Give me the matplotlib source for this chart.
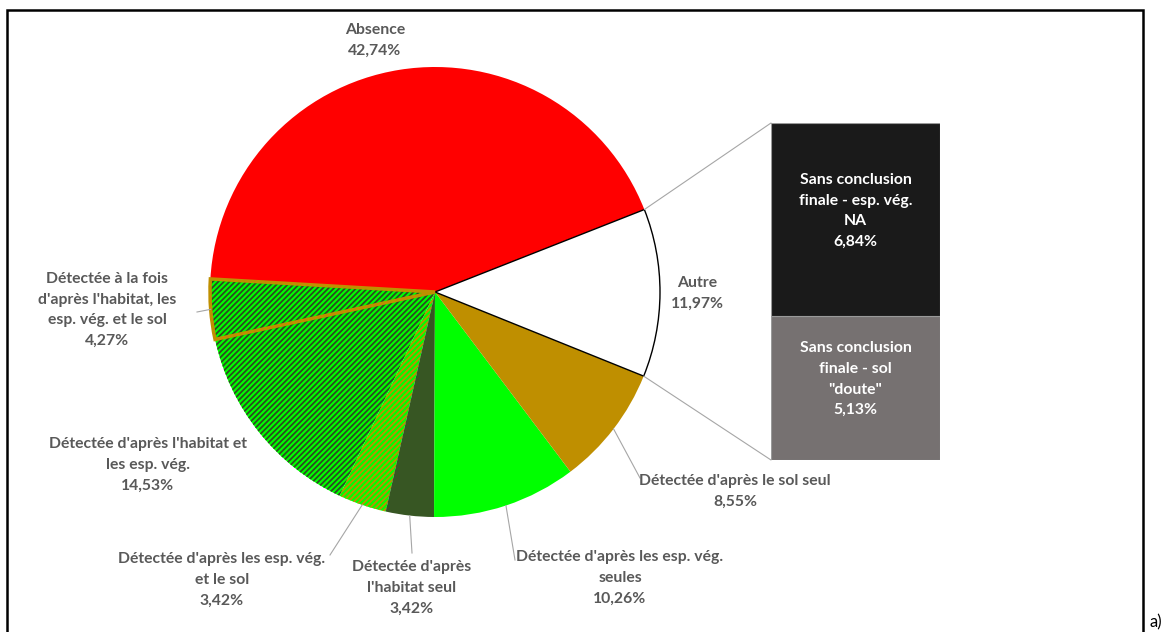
import numpy as np
import matplotlib
matplotlib.use("Agg")
import matplotlib.pyplot as plt
from matplotlib.patches import Wedge, Rectangle, ConnectionPatch

# data (percent of sites)
labels = ["Absence",
          "Détectée à la fois\nd'après l'habitat, les\nesp. vég. et le sol",
          "Détectée d'après l'habitat et\nles esp. vég.",
          "Détectée d'après les esp. vég.\net le sol",
          "Détectée d'après\nl'habitat seul",
          "Détectée d'après les esp. vég.\nseules",
          "Détectée d'après le sol seul",
          "Autre"]
values = [42.74, 4.27, 14.53, 3.42, 3.42, 10.26, 8.55, 11.97]
colors = ["#FF0000", "#00FF00", "#00FF00", "#00FF00", "#375623", "#00FF00", "#BF8F00", "#FFFFFF"]
hatch_cols = [None, "#2E4A22", "#2E4A22", "#BF8F00", None, None, None, None]

sub_labels = ["Sans conclusion\nfinale - sol\n\"doute\"", "Sans conclusion\nfinale - esp. vég.\nNA"]
sub_values = [5.13, 6.84]
sub_colors = ["#767171", "#1A1A1A"]

W, H = 1170, 632
TXT = "#595959"
FS = 11.3
LS = 1.6
plt.rcParams['font.family'] = ['Lato', 'DejaVu Sans']
plt.rcParams['hatch.linewidth'] = 1.3

fig = plt.figure(figsize=(W / 100, H / 100), dpi=100)
ax = fig.add_axes([0, 0, 1, 1])

def py(y):
    return H - y

def pct(v):
    return f"{v:.2f}%".replace(".", ",")

cx, cy, R = 435, py(292), 225
wedges, _ = ax.pie(values, colors=colors, center=(cx, cy), radius=R,
                   startangle=21.5, counterclock=True,
                   wedgeprops=dict(linewidth=0))
ax.set_xlim(0, W)
ax.set_ylim(0, H)
ax.set_aspect("auto")
ax.axis("off")

for w, hc in zip(wedges, hatch_cols):
    if hc is not None:
        w.set_hatch("//////")
        w.set_edgecolor(hc)
        w.set_linewidth(0)

# outline of "Autre" and of the "à la fois" slice
wa = wedges[-1]
wa.set_edgecolor("black")
wa.set_linewidth(1.0)
wf = wedges[1]
ax.add_patch(Wedge(wf.center, wf.r, wf.theta1, wf.theta2, fill=False,
                   edgecolor="#BF8F00", linewidth=2.5, zorder=3))

# second part: stacked bar of "Autre"
axb = fig.add_axes([771 / W, (H - 460) / H, 169 / W, 337 / H])
bottom = 0
for v, c, lab in zip(sub_values, sub_colors, sub_labels):
    axb.bar(0, v, bottom=bottom, width=1, color=c, edgecolor="#9a9a9a", linewidth=0.8)
    axb.text(0, bottom + v / 2 + 0.3, f"{lab}\n{pct(v)}",
             ha="center", va="center", color="white", fontsize=FS,
             fontweight="bold", linespacing=LS)
    bottom += v
axb.set_xlim(-0.5, 0.5)
axb.set_ylim(0, sum(sub_values))
axb.axis("off")

# connectors
for ang, yb in [(wa.theta2, sum(sub_values)), (wa.theta1, 0)]:
    p = (cx + R * np.cos(np.radians(ang)), cy + R * np.sin(np.radians(ang)))
    con = ConnectionPatch(xyA=p, coordsA=ax.transData, xyB=(-0.5, yb),
                          coordsB=axb.transData, color="#A6A6A6", linewidth=0.8)
    fig.add_artist(con)

# data labels: block centre in pixels, leader end in pixels
label_pos = [(375, 40, None), (107, 310, (197, 312)), (148, 465, None),
             (222, 580, (330, 555)), (412, 588, (412, 553)),
             (620, 578, (515, 560)), (735, 491, (640, 478)), (697, 293, None)]
for w, lab, v, (lx, ly, lead) in zip(wedges, labels, values, label_pos):
    ax.text(lx, py(ly), f"{lab}\n{pct(v)}", ha="center", va="center",
            color=TXT, fontsize=FS, fontweight="bold", linespacing=LS, zorder=5)
    if lead is not None:
        mid = np.radians((w.theta1 + w.theta2) / 2)
        ax.plot([cx + R * np.cos(mid), lead[0]], [cy + R * np.sin(mid), py(lead[1])],
                color="#A6A6A6", linewidth=0.8, zorder=4)

# outer frame and panel tag
fig.add_artist(Rectangle((7 / W, -0.02), (1143 - 7) / W, (H - 10) / H + 0.02,
                         transform=fig.transFigure, fill=False, edgecolor="black", linewidth=1.8))
fig.text(1150 / W, py(622) / H, "a)", fontsize=12, va="center", ha="left", color="black")

fig.savefig("out.png", dpi=100)
